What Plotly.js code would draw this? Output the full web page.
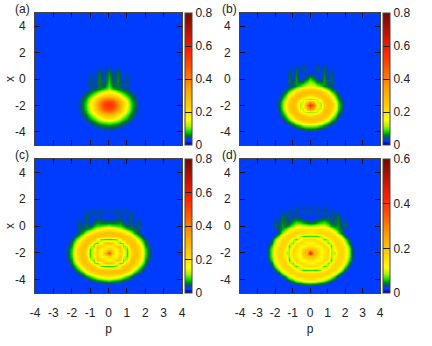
<!DOCTYPE html>
<html>
<head>
<meta charset="utf-8">
<script src="https://cdn.plot.ly/plotly-3.0.1.min.js"></script>
<style>html,body{margin:0;padding:0;background:#fff}</style>
</head>
<body>
<div id="plotArea" style="width:432px;height:346px"></div>
<script>
// x rows, top to bottom, shared by all four panels
var xRows = [5, 2, 1.75, 1.5, 1.25, 1, .75, .5, .25, 0, -.25, -.5, -.75, -1, -1.25, -1.5, -1.75, -2,
  -2.25, -2.5, -2.75, -3, -3.25, -3.5, -3.75, -4, -4.25, -4.5, -4.75, -5];

// right half of each panel, p >= 0. short rows carry their last value on to the edge
var pA = [0, .25, .5, .75, 1, 1.25, 1.5, 1.75, 2];
var pB = [0, .2, .4, .6, .8, 1, 1.2, 1.4, 1.6, 1.8, 2];
var pC = [0, .2, .4, .6, .8, 1, 1.2, 1.4, 1.6, 1.8, 2, 2.2, 2.4];
var pD = [0, .2, .4, .6, .8, 1, 1.2, 1.4, 1.6, 1.8, 2, 2.2, 2.4, 2.6];

var zA = [
  [.03], [.03], [.03], [.03],
  [.032, .03],
  [.035, .03, .033, .03],
  [.045, .03, .04, .03, .032, .03],
  [.06, .033, .052, .03, .036, .03],
  [.07, .035, .058, .032, .04, .03],
  [.075, .036, .06, .034, .043, .03],
  [.08, .04, .06, .035, .045, .03],
  [.09, .05, .055, .037, .042, .03],
  [.11, .08, .06, .045, .04, .032, .03],
  [.17, .15, .11, .08, .055, .04, .03],
  [.28, .26, .2, .13, .085, .055, .035, .03],
  [.42, .39, .3, .2, .12, .07, .04, .03],
  [.52, .49, .37, .24, .14, .08, .043, .03],
  [.55, .51, .39, .25, .15, .085, .045, .03],
  [.5, .47, .36, .23, .14, .08, .042, .03],
  [.4, .37, .28, .19, .12, .07, .04, .03],
  [.28, .26, .2, .14, .09, .055, .035, .03],
  [.18, .17, .13, .095, .065, .042, .032, .03],
  [.11, .1, .085, .06, .045, .033, .03],
  [.065, .06, .052, .042, .034, .03],
  [.04, .038, .035, .032, .03],
  [.03], [.03], [.03], [.03], [.03]
];

var zB = [
  [.03], [.03], [.03],
  [.03, .03, .032, .03],
  [.03, .03, .038, .03, .033, .03],
  [.035, .03, .045, .03, .04, .03, .034, .03],
  [.03, .03, .048, .03, .05, .03, .04, .03],
  [.035, .03, .042, .03, .055, .03, .045, .03],
  [.055, .04, .033, .03, .06, .032, .05, .03],
  [.085, .06, .04, .032, .065, .034, .052, .03],
  [.11, .09, .06, .05, .065, .04, .05, .035, .03],
  [.14, .13, .11, .085, .065, .046, .04, .03],
  [.24, .23, .21, .18, .13, .09, .058, .04, .03],
  [.28, .28, .28, .26, .22, .16, .1, .06, .038, .03],
  [.19, .21, .25, .27, .28, .23, .16, .095, .05, .032, .03],
  [.11, .11, .13, .21, .27, .28, .21, .125, .07, .04, .03],
  [.37, .27, .13, .13, .26, .28, .24, .16, .085, .045, .03],
  [.56, .4, .16, .11, .22, .28, .26, .18, .09, .05, .03],
  [.37, .27, .13, .13, .26, .28, .24, .16, .085, .045, .03],
  [.11, .11, .13, .21, .27, .28, .21, .125, .07, .04, .03],
  [.19, .21, .25, .27, .28, .23, .16, .095, .05, .032, .03],
  [.28, .28, .28, .26, .22, .16, .1, .06, .038, .03],
  [.24, .23, .21, .18, .13, .09, .058, .04, .03],
  [.12, .12, .11, .085, .065, .046, .034, .03],
  [.055, .054, .046, .04, .034, .03],
  [.03], [.03], [.03], [.03], [.03]
];

var zC = [
  [.03], [.03], [.03],
  [.03, .03, .034, .03, .033, .03],
  [.036, .03, .04, .03, .04, .03, .036, .03],
  [.04, .034, .045, .035, .045, .034, .044, .03],
  [.03, .03, .033, .036, .035, .034, .05, .03, .034, .03],
  [.036, .036, .04, .045, .035, .03, .048, .03, .04, .03],
  [.06, .055, .06, .065, .05, .032, .05, .03, .045, .03],
  [.11, .1, .09, .085, .07, .04, .055, .035, .05, .03],
  [.2, .19, .17, .14, .11, .08, .06, .05, .045, .03],
  [.27, .27, .26, .25, .22, .17, .12, .075, .045, .03],
  [.24, .26, .27, .27, .27, .25, .2, .13, .08, .045, .03],
  [.085, .085, .1, .17, .26, .27, .26, .21, .13, .075, .04, .03],
  [.27, .26, .16, .09, .11, .24, .27, .25, .19, .11, .06, .035, .03],
  [.16, .18, .24, .26, .1, .13, .27, .27, .22, .14, .07, .04, .03],
  [.24, .19, .15, .25, .15, .09, .23, .27, .24, .16, .085, .045, .03],
  [.5, .28, .15, .22, .2, .085, .2, .27, .25, .17, .09, .045, .03],
  [.24, .19, .15, .25, .15, .09, .23, .27, .24, .16, .085, .045, .03],
  [.16, .18, .24, .26, .1, .13, .27, .27, .22, .14, .07, .04, .03],
  [.27, .26, .16, .09, .11, .24, .27, .25, .19, .11, .06, .035, .03],
  [.085, .085, .1, .17, .26, .27, .26, .21, .13, .075, .04, .03],
  [.24, .26, .27, .27, .27, .25, .2, .13, .08, .045, .03],
  [.27, .27, .26, .25, .22, .17, .12, .075, .045, .03],
  [.2, .2, .18, .15, .12, .09, .06, .036, .03],
  [.1, .09, .08, .07, .055, .04, .032, .03],
  [.04, .038, .035, .03], [.03], [.03], [.03]
];

var zD = [
  [.021], [.021], [.024, .021, .024, .021, .024, .021],
  [.03, .021, .03, .021, .03, .021, .024, .021],
  [.032, .022, .032, .022, .034, .022, .03, .021, .024, .021],
  [.03, .026, .03, .026, .032, .026, .034, .026, .03, .021],
  [.021, .022, .024, .026, .028, .026, .03, .034, .04, .022, .025, .021],
  [.024, .026, .03, .036, .042, .036, .028, .034, .042, .024, .03, .021],
  [.04, .045, .055, .065, .07, .055, .036, .038, .045, .028, .036, .021],
  [.085, .09, .1, .105, .1, .08, .055, .04, .05, .03, .04, .021],
  [.15, .15, .15, .155, .15, .13, .1, .07, .05, .036, .024, .021],
  [.15, .155, .165, .17, .17, .17, .155, .12, .075, .035, .021],
  [.07, .065, .065, .09, .14, .17, .17, .16, .13, .075, .035, .021],
  [.17, .165, .15, .11, .065, .095, .16, .17, .16, .12, .07, .03, .021],
  [.11, .125, .16, .17, .14, .075, .1, .17, .17, .15, .1, .045, .021],
  [.16, .14, .11, .125, .17, .13, .065, .15, .17, .16, .12, .065, .03, .021],
  [.2, .2, .17, .11, .15, .165, .085, .12, .17, .17, .135, .08, .035, .021],
  [.48, .22, .2, .12, .14, .17, .09, .09, .17, .17, .14, .08, .035, .021],
  [.2, .2, .17, .11, .15, .165, .085, .12, .17, .17, .135, .08, .035, .021],
  [.16, .14, .11, .125, .17, .13, .065, .15, .17, .16, .12, .065, .03, .021],
  [.11, .125, .16, .17, .14, .075, .1, .17, .17, .15, .1, .045, .021],
  [.17, .165, .15, .11, .065, .095, .16, .17, .16, .12, .07, .03, .021],
  [.07, .065, .065, .09, .14, .17, .17, .16, .13, .075, .035, .021],
  [.15, .155, .165, .17, .17, .17, .155, .12, .075, .035, .021],
  [.17, .17, .17, .165, .155, .13, .1, .06, .03, .021],
  [.14, .14, .125, .11, .095, .065, .045, .026, .021],
  [.065, .06, .055, .045, .035, .025, .021],
  [.024, .024, .022, .021], [.021], [.021]
];

var xTickVals = [-4, -3, -2, -1, 0, 1, 2, 3, 4];
var xTickText = ["-4", "-3", "-2", "-1", "0", "1", "2", "3", "4"];
var yTickVals = [-4, -2, 0, 2, 4];
var yTickText = ["-4", "-2", "0", "2", "4"];
var barTicks = [0, .2, .4, .6, .8];
var barTicksD = [0, .2, .4, .6];

var palette = [
  [0, "rgb(0,0,120)"], [.02, "rgb(0,30,210)"], [.03, "rgb(0,60,255)"], [.04, "rgb(0,60,255)"],
  [.055, "rgb(0,85,120)"], [.075, "rgb(0,130,20)"],
  [.1, "rgb(0,220,0)"], [.14, "rgb(170,240,0)"], [.19, "rgb(255,255,0)"], [.3, "rgb(255,205,0)"],
  [.42, "rgb(255,165,0)"], [.6, "rgb(255,80,0)"], [.72, "rgb(255,30,0)"], [.85, "rgb(190,20,0)"],
  [1, "rgb(110,10,0)"]
];

var W = 432, H = 346, ink = "#222", edge = "#444";
var fnt = {family: "Liberation Sans, Arial, sans-serif", size: 12, color: ink};

// mirror the half grid around p=0 and stretch out to the axis edge
function fullP(half) {
  var p = half.concat([4.5]);
  return p.slice(1).reverse().map(function(v) { return -v; }).concat(p);
}
function fullZ(rows, half) {
  return rows.map(function(r) {
    var row = [];
    for (var i = 0; i < half.length + 1; i++) row.push(i < r.length ? r[i] : r[r.length - 1]);
    return row.slice(1).reverse().concat(row);
  });
}

function panel(n, half, rows, zmax, ticks, box) {
  return {
    type: "heatmap", xaxis: "x" + n, yaxis: "y" + n,
    x: fullP(half), y: xRows, z: fullZ(rows, half),
    zmin: 0, zmax: zmax, zsmooth: "best", colorscale: palette,
    colorbar: {
      x: box.bar / W, xanchor: "left", xpad: 0, ypad: 0, thickness: 7, thicknessmode: "pixels",
      y: 1 - box.top / H, yanchor: "top", len: (box.bottom - box.top) / H, lenmode: "fraction",
      tickvals: ticks, ticktext: ticks.map(String), ticks: "inside", ticklen: 7, tickcolor: "#222",
      tickwidth: 1, outlinecolor: edge, outlinewidth: 1, tickfont: fnt
    }
  };
}

var boxes = [
  {left: 35, right: 182, top: 13, bottom: 145, bar: 185},
  {left: 240, right: 380, top: 13, bottom: 145, bar: 383},
  {left: 35, right: 182, top: 159, bottom: 293, bar: 185},
  {left: 240, right: 380, top: 159, bottom: 293, bar: 383}
];

var data = [
  panel(1, pA, zA, .8, barTicks, boxes[0]),
  panel(2, pB, zB, .8, barTicks, boxes[1]),
  panel(3, pC, zC, .8, barTicks, boxes[2]),
  panel(4, pD, zD, .6, barTicksD, boxes[3])
];

var layout = {
  width: W, height: H, margin: {l: 0, r: 0, t: 0, b: 0},
  paper_bgcolor: "#fff", plot_bgcolor: "rgb(0,60,255)", showlegend: false, font: fnt,
  annotations: []
};

var names = ["(a)", "(b)", "(c)", "(d)"];
boxes.forEach(function(b, i) {
  var n = i + 1, bottomRow = i > 1, leftCol = i % 2 == 0;
  layout["xaxis" + n] = {
    domain: [b.left / W, b.right / W], anchor: "y" + n, range: [-4, 4],
    tickvals: xTickVals, ticktext: xTickText, showticklabels: bottomRow, tickfont: fnt,
    ticks: "inside", ticklen: 5, tickcolor: "#111", showgrid: false, zeroline: false,
    showline: true, linecolor: edge, linewidth: 1, mirror: "ticks", ticklabelstandoff: 9,
    title: bottomRow ? {text: "p", font: fnt, standoff: 5} : undefined
  };
  layout["yaxis" + n] = {
    domain: [1 - b.bottom / H, 1 - b.top / H], anchor: "x" + n, range: [-5, 5],
    tickvals: yTickVals, ticktext: yTickText, tickfont: fnt,
    ticks: "inside", ticklen: 5, tickcolor: "#111", showgrid: false, zeroline: false,
    showline: true, linecolor: edge, linewidth: 1, mirror: "ticks", ticklabelstandoff: 6
  };
  layout.annotations.push({
    text: names[i], xref: "paper", yref: "paper", showarrow: false, font: fnt,
    x: (leftCol ? 22 : 229) / W, y: 1 - (bottomRow ? 155 : 9) / H, xanchor: "center", yanchor: "middle"
  });
  // the y title sits closer to the tick labels than title.standoff can put it
  if (leftCol) layout.annotations.push({
    text: "x", xref: "paper", yref: "paper", showarrow: false, font: fnt, textangle: -90,
    x: 10 / W, y: 1 - (b.top + b.bottom) / 2 / H, xanchor: "center", yanchor: "middle"
  });
});

Plotly.newPlot("plotArea", data, layout, {displayModeBar: false, responsive: false});
</script>
</body>
</html>
